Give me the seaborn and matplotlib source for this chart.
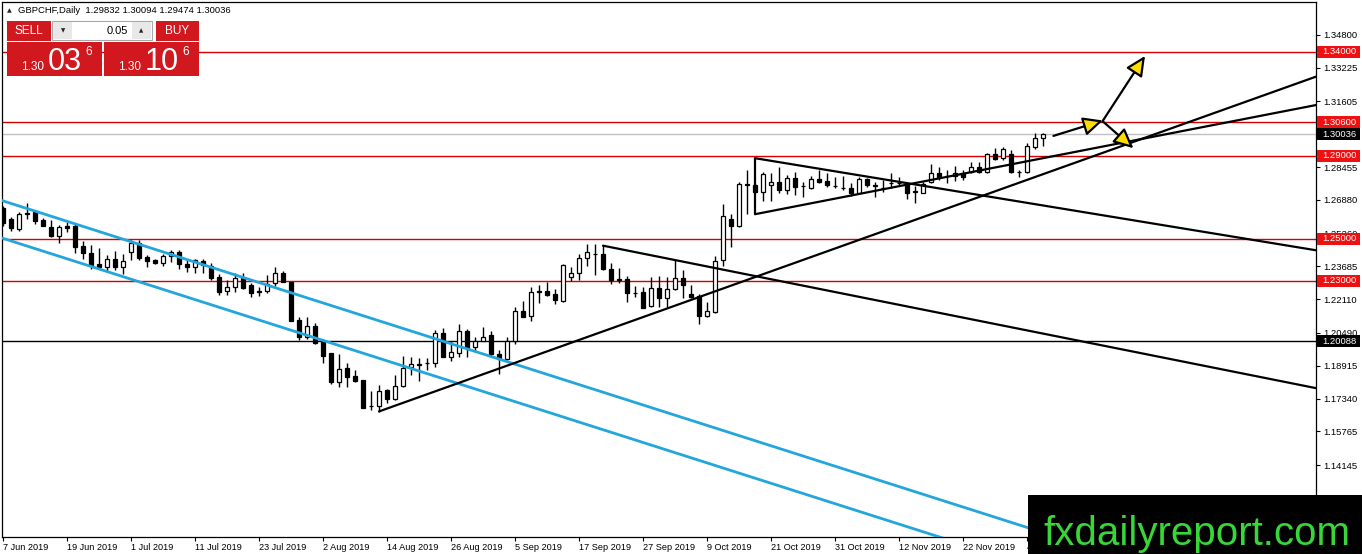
import numpy as np
import pandas as pd
import matplotlib
matplotlib.use("Agg")
import matplotlib.pyplot as plt
import matplotlib.transforms as mtransforms
from matplotlib.patches import Rectangle
from matplotlib import font_manager
import seaborn as sns

# daily GBPCHF candles, 7 Jun 2019 .. 6 Dec 2019 (one per weekday)
opens = [1.2649, 1.2595, 1.2548, 1.2624, 1.2628, 1.2591, 1.2558, 1.2516, 1.2562, 1.2564,
         1.2467, 1.2432, 1.2379, 1.2367, 1.2403, 1.2367, 1.2436, 1.2481, 1.2414, 1.2399,
         1.2384, 1.2418, 1.2438, 1.2382, 1.2365, 1.2393, 1.2370, 1.2318, 1.2249, 1.2271,
         1.2311, 1.2278, 1.2250, 1.2249, 1.2288, 1.2336, 1.2293, 1.2111, 1.2028, 1.2082,
         1.2012, 1.1951, 1.1815, 1.1881, 1.1842, 1.1823, 1.1698, 1.1698, 1.1775, 1.1730,
         1.1794, 1.1884, 1.1897, 1.1903, 1.1903, 1.2047, 1.1932, 1.1951, 1.2060, 1.1981,
         1.2012, 1.2037, 1.1946, 1.1922, 1.2012, 1.2154, 1.2130, 1.2246, 1.2250, 1.2234,
         1.2204, 1.2318, 1.2337, 1.2408, 1.2427, 1.2428, 1.2355, 1.2306, 1.2307, 1.2243,
         1.2244, 1.2178, 1.2264, 1.2219, 1.2259, 1.2312, 1.2235, 1.2224, 1.2132, 1.2151,
         1.2399, 1.2595, 1.2562, 1.2763, 1.2760, 1.2728, 1.2758, 1.2774, 1.2736, 1.2792,
         1.2755, 1.2744, 1.2787, 1.2779, 1.2755, 1.2747, 1.2744, 1.2720, 1.2787, 1.2757,
         1.2745, 1.2768, 1.2769, 1.2768, 1.2731, 1.2723, 1.2776, 1.2819, 1.2804, 1.2803,
         1.2816, 1.2821, 1.2848, 1.2821, 1.2907, 1.2888, 1.2907, 1.2820, 1.2821, 1.2944,
         1.29832]
highs = [1.2659, 1.2604, 1.2631, 1.2672, 1.2635, 1.2601, 1.2590, 1.2567, 1.2585, 1.2578,
         1.2491, 1.2470, 1.2457, 1.2422, 1.2443, 1.2428, 1.2494, 1.2494, 1.2423, 1.2406,
         1.2428, 1.2446, 1.2447, 1.2399, 1.2404, 1.2406, 1.2384, 1.2330, 1.2303, 1.2335,
         1.2335, 1.2287, 1.2270, 1.2328, 1.2364, 1.2345, 1.2295, 1.2124, 1.2127, 1.2098,
         1.2018, 1.1954, 1.1948, 1.1903, 1.1871, 1.1824, 1.1769, 1.1798, 1.1781, 1.1847,
         1.1939, 1.1932, 1.1930, 1.1927, 1.2063, 1.2071, 1.2012, 1.2090, 1.2068, 1.2031,
         1.2076, 1.2057, 1.1967, 1.2028, 1.2172, 1.2204, 1.2268, 1.2279, 1.2292, 1.2258,
         1.2379, 1.2366, 1.2428, 1.2475, 1.2476, 1.2471, 1.2384, 1.2360, 1.2320, 1.2276,
         1.2271, 1.2316, 1.2323, 1.2316, 1.2397, 1.2351, 1.2279, 1.2236, 1.2199, 1.2418,
         1.2668, 1.2619, 1.2776, 1.2829, 1.2768, 1.2824, 1.2816, 1.2848, 1.2808, 1.2820,
         1.2775, 1.2803, 1.2832, 1.2816, 1.2797, 1.2803, 1.2771, 1.2800, 1.2794, 1.2775,
         1.2784, 1.2816, 1.2797, 1.2776, 1.2755, 1.2776, 1.2861, 1.2848, 1.2832, 1.2851,
         1.2832, 1.2872, 1.2872, 1.2912, 1.2936, 1.2941, 1.2928, 1.2832, 1.2960, 1.3008,
         1.30094]
lows = [1.2563, 1.2539, 1.2540, 1.2595, 1.2571, 1.2562, 1.2511, 1.2482, 1.2532, 1.2432,
        1.2404, 1.2358, 1.2355, 1.2343, 1.2351, 1.2332, 1.2399, 1.2399, 1.2367, 1.2380,
        1.2371, 1.2391, 1.2356, 1.2342, 1.2339, 1.2339, 1.2303, 1.2233, 1.2233, 1.2244,
        1.2259, 1.2223, 1.2226, 1.2242, 1.2274, 1.2293, 1.2107, 1.2015, 1.2021, 1.1995,
        1.1903, 1.1804, 1.1791, 1.1788, 1.1815, 1.1687, 1.1679, 1.1671, 1.1711, 1.1727,
        1.1791, 1.1846, 1.1820, 1.1871, 1.1884, 1.1934, 1.1916, 1.1935, 1.1935, 1.1959,
        1.2010, 1.1935, 1.1850, 1.1919, 1.1996, 1.2124, 1.2105, 1.2194, 1.2226, 1.2188,
        1.2199, 1.2297, 1.2303, 1.2372, 1.2327, 1.2351, 1.2284, 1.2290, 1.2199, 1.2223,
        1.2167, 1.2175, 1.2175, 1.2172, 1.2255, 1.2215, 1.2215, 1.2092, 1.2127, 1.2146,
        1.2370, 1.2460, 1.2556, 1.2620, 1.2720, 1.2682, 1.2682, 1.2720, 1.2716, 1.2712,
        1.2703, 1.2739, 1.2768, 1.2752, 1.2744, 1.2736, 1.2707, 1.2716, 1.2752, 1.2703,
        1.2728, 1.2744, 1.2755, 1.2691, 1.2672, 1.2720, 1.2768, 1.2784, 1.2768, 1.2779,
        1.2784, 1.2816, 1.2816, 1.2816, 1.2877, 1.2880, 1.2816, 1.2800, 1.2816, 1.2931,
        1.29474]
closes = [1.2577, 1.2552, 1.2619, 1.2620, 1.2588, 1.2564, 1.2515, 1.2558, 1.2554, 1.2463,
          1.2434, 1.2377, 1.2365, 1.2403, 1.2367, 1.2395, 1.2480, 1.2409, 1.2396, 1.2384,
          1.2418, 1.2437, 1.2379, 1.2367, 1.2398, 1.2374, 1.2314, 1.2247, 1.2270, 1.2311,
          1.2266, 1.2242, 1.2244, 1.2286, 1.2336, 1.2295, 1.2108, 1.2028, 1.2082, 1.2002,
          1.1938, 1.1813, 1.1874, 1.1839, 1.1820, 1.1690, 1.1700, 1.1772, 1.1730, 1.1794,
          1.1880, 1.1898, 1.1899, 1.1904, 1.2047, 1.1935, 1.1956, 1.2057, 1.1975, 1.2012,
          1.2028, 1.1948, 1.1922, 1.2012, 1.2154, 1.2127, 1.2244, 1.2248, 1.2232, 1.2207,
          1.2375, 1.2337, 1.2408, 1.2437, 1.2429, 1.2355, 1.2303, 1.2304, 1.2242, 1.2242,
          1.2171, 1.2264, 1.2219, 1.2259, 1.2312, 1.2279, 1.2221, 1.2132, 1.2154, 1.2396,
          1.2612, 1.2562, 1.2763, 1.2758, 1.2728, 1.2811, 1.2774, 1.2733, 1.2792, 1.2751,
          1.2753, 1.2787, 1.2776, 1.2757, 1.2754, 1.2745, 1.2720, 1.2787, 1.2760, 1.2756,
          1.2744, 1.2769, 1.2768, 1.2723, 1.2726, 1.2765, 1.2816, 1.2800, 1.2803, 1.2816,
          1.2797, 1.2848, 1.2821, 1.2907, 1.2885, 1.2931, 1.2821, 1.2822, 1.2948, 1.2984,
          1.30036]

date_labels = ["7 Jun 2019", "19 Jun 2019", "1 Jul 2019", "11 Jul 2019", "23 Jul 2019",
               "2 Aug 2019", "14 Aug 2019", "26 Aug 2019", "5 Sep 2019", "17 Sep 2019",
               "27 Sep 2019", "9 Oct 2019", "21 Oct 2019", "31 Oct 2019", "12 Nov 2019",
               "22 Nov 2019", "4 Dec 2019"]
bars_per_label = 8

price_ticks = [1.34800, 1.33225, 1.31605, 1.30030, 1.28455, 1.26880, 1.25260, 1.23685,
               1.22110, 1.20490, 1.18915, 1.17340, 1.15765, 1.14145, 1.12570]
red_levels = [1.34000, 1.30600, 1.29000, 1.25000, 1.23000]
black_level = 1.20088
bid = 1.30036
ask = 1.30106
lot = "0.05"

# drawn objects: (bar, price) anchor pairs
channel_upper = [(0, 1.2683), (40, 1.2193)]
channel_lower = [(0, 1.2503), (40, 1.2013)]
support_ray = [(47, 1.1672), (132.1, 1.2840)]
resist_ray = [(75, 1.2468), (164.1, 1.1784)]
tri_top = [(94, 1.2888), (164.1, 1.2446)]
tri_bottom = [(94, 1.2619), (164.1, 1.3143)]
arrows = [[(131.3, 1.2995), (137.5, 1.3069)],
          [(137.5, 1.3069), (142.75, 1.3379)],
          [(137.5, 1.3064), (141.3, 1.2936)]]

sns.set_style("white")
plt.rcParams['font.family'] = ['Liberation Sans', 'DejaVu Sans']
names = {f.name for f in font_manager.fontManager.ttflist}
has_narrow = 'Liberation Sans Narrow' in names

W, H = 1362, 554
fig = plt.figure(figsize=(W / 100, H / 100), dpi=100)
ax = fig.add_axes([2 / W, 17 / H, 1314 / W, 535 / H])

df = pd.DataFrame({'o': opens, 'h': highs, 'l': lows, 'c': closes})
df['i'] = np.arange(len(df))
up = df.c >= df.o
df['bot'] = np.minimum(df.o, df.c)
df['body'] = (df.c - df.o).abs().clip(lower=0.00004)

# horizontal levels
for lv in red_levels:
    ax.axhline(lv, color='#D40000', lw=1, zorder=1)
ax.axhline(bid, color='#C0C0C0', lw=1, zorder=1)
ax.axhline(black_level, color='black', lw=1, zorder=1)

# candles
ax.vlines(df.i, df.l, df.h, color='black', lw=1, zorder=3)
ax.bar(df.i[up], df.body[up], bottom=df.bot[up], width=0.62, color='white',
       edgecolor='black', lw=0.9, zorder=4)
ax.bar(df.i[~up], df.body[~up], bottom=df.bot[~up], width=0.62, color='black',
       edgecolor='black', lw=0.9, zorder=4)


def ray(pts, x0, x1, **kw):
    (xa, ya), (xb, yb) = pts
    k = (yb - ya) / (xb - xa)
    xs = [x0, x1]
    ys = [ya + k * (x - xa) for x in xs]
    sns.lineplot(x=xs, y=ys, ax=ax, sort=False, **kw)


blue = '#22A6DC'
ray(channel_upper, -2, 170, color=blue, lw=2.0, zorder=5)
ray(channel_lower, -2, 170, color=blue, lw=2.0, zorder=5)
ray(support_ray, support_ray[0][0], 170, color='black', lw=1.6, zorder=5)
ray(resist_ray, resist_ray[0][0], 170, color='black', lw=1.6, zorder=5)
ray(tri_top, tri_top[0][0], 170, color='black', lw=1.6, zorder=5)
ray(tri_bottom, tri_bottom[0][0], 170, color='black', lw=1.6, zorder=5)
ax.vlines(tri_top[0][0], tri_bottom[0][1], tri_top[0][1], color='black', lw=1.6, zorder=5)

for (s, e) in arrows:
    ax.annotate("", xy=e, xytext=s,
                arrowprops=dict(arrowstyle="-|>,head_length=0.8,head_width=0.38",
                                mutation_scale=15, fc='#FFDD00', ec='black', lw=1.6,
                                shrinkA=0, shrinkB=0), zorder=6)

ax.set_xlim(-0.125, 164.125)
ax.set_ylim(1.1069, 1.3638)
ax.set_xlabel('')
ax.set_ylabel('')

ax.set_xticks(np.arange(len(date_labels)) * bars_per_label)
ax.set_xticklabels(date_labels, ha='left')
ax.yaxis.tick_right()
ax.set_yticks(price_ticks)
ax.set_yticklabels([f"{v:.5f}" for v in price_ticks])
ax.tick_params(axis='x', length=3, width=0.8, pad=1.5, labelsize=6.6, colors='black',
               direction='out', bottom=True)
ax.tick_params(axis='y', length=3, width=0.8, pad=2, labelsize=6.8, colors='black',
               direction='out', right=True, left=False)
for sp in ax.spines.values():
    sp.set_color('black')
    sp.set_linewidth(0.9)

# price boxes on the right scale
tr = mtransforms.blended_transform_factory(ax.transAxes, ax.transData)
boxes = [(lv, '#EE1111') for lv in red_levels] + [(bid, 'black'), (black_level, 'black')]
for lv, col in boxes:
    ax.add_patch(Rectangle((1.0008, lv - 0.0029), 0.0330, 0.0058, transform=tr,
                           fc=col, ec='none', clip_on=False, zorder=10))
    ax.text(1.0046, lv, f"{lv:.5f}", transform=tr, color='white', fontsize=6.8,
            va='center', ha='left', clip_on=False, zorder=11)

# overlay in pixel space: header, trade panel, watermark
ov = fig.add_axes([0, 0, 1, 1])
ov.set_xlim(0, W)
ov.set_ylim(H, 0)
ov.axis('off')
ov.patch.set_alpha(0)

o_, h_, l_, c_ = opens[-1], highs[-1], lows[-1], closes[-1]
ov.text(7, 10.5, "▲", fontsize=4.5, family='DejaVu Sans', va='center', ha='left')
ov.text(18, 10.5, f"GBPCHF,Daily  {o_:.5f} {h_:.5f} {l_:.5f} {c_:.5f}",
        fontsize=6.8, va='center', ha='left', color='black')

red = '#D0181E'
ov.add_patch(Rectangle((7, 21), 44, 20, fc=red, ec='none'))
ov.text(29, 31.5, "SELL", color='white', fontsize=8.5, ha='center', va='center')
ov.add_patch(Rectangle((52, 21), 100, 19, fc='white', ec='#A8A8A8', lw=0.8))
ov.add_patch(Rectangle((53, 22), 19, 17, fc='#E8E8E8', ec='none'))
ov.add_patch(Rectangle((132, 22), 19, 17, fc='#E8E8E8', ec='none'))
ov.text(63, 31, "▼", fontsize=4, family='DejaVu Sans', ha='center', va='center')
ov.text(141.5, 31, "▲", fontsize=4, family='DejaVu Sans', ha='center', va='center')
ov.text(128, 31, lot, fontsize=8, ha='right', va='center', color='black')
ov.add_patch(Rectangle((156, 21), 43, 20, fc=red, ec='none'))
ov.text(177.5, 31.5, "BUY", color='white', fontsize=8.5, ha='center', va='center')

big_family = 'Liberation Sans Narrow' if has_narrow else 'Liberation Sans'
big_size = 26 if has_narrow else 22
for x0, price in [(7, bid), (104, ask)]:
    ov.add_patch(Rectangle((x0, 42), 94.5, 34, fc=red, ec='none'))
    s = f"{price:.5f}"
    ov.text(x0 + 14, 70, s[:4], color='white', fontsize=8.5, ha='left', va='baseline')
    ov.text(x0 + 41, 70, s[4:6], color='white', fontsize=big_size, family=big_family,
            ha='left', va='baseline')
    ov.text(x0 + 78, 55, s[6], color='white', fontsize=8.5, ha='left', va='baseline')

ov.add_patch(Rectangle((1028, 495), W - 1028, H - 495, fc='black', ec='none'))
wm_family = 'Liberation Sans Narrow' if has_narrow else 'Liberation Sans'
wm_size = 34.5 if has_narrow else 29
ov.text(1043, 545, "fxdailyreport.com", color='#38D638', fontsize=wm_size,
        family=wm_family, ha='left', va='baseline')

fig.savefig("out.png", dpi=100)
